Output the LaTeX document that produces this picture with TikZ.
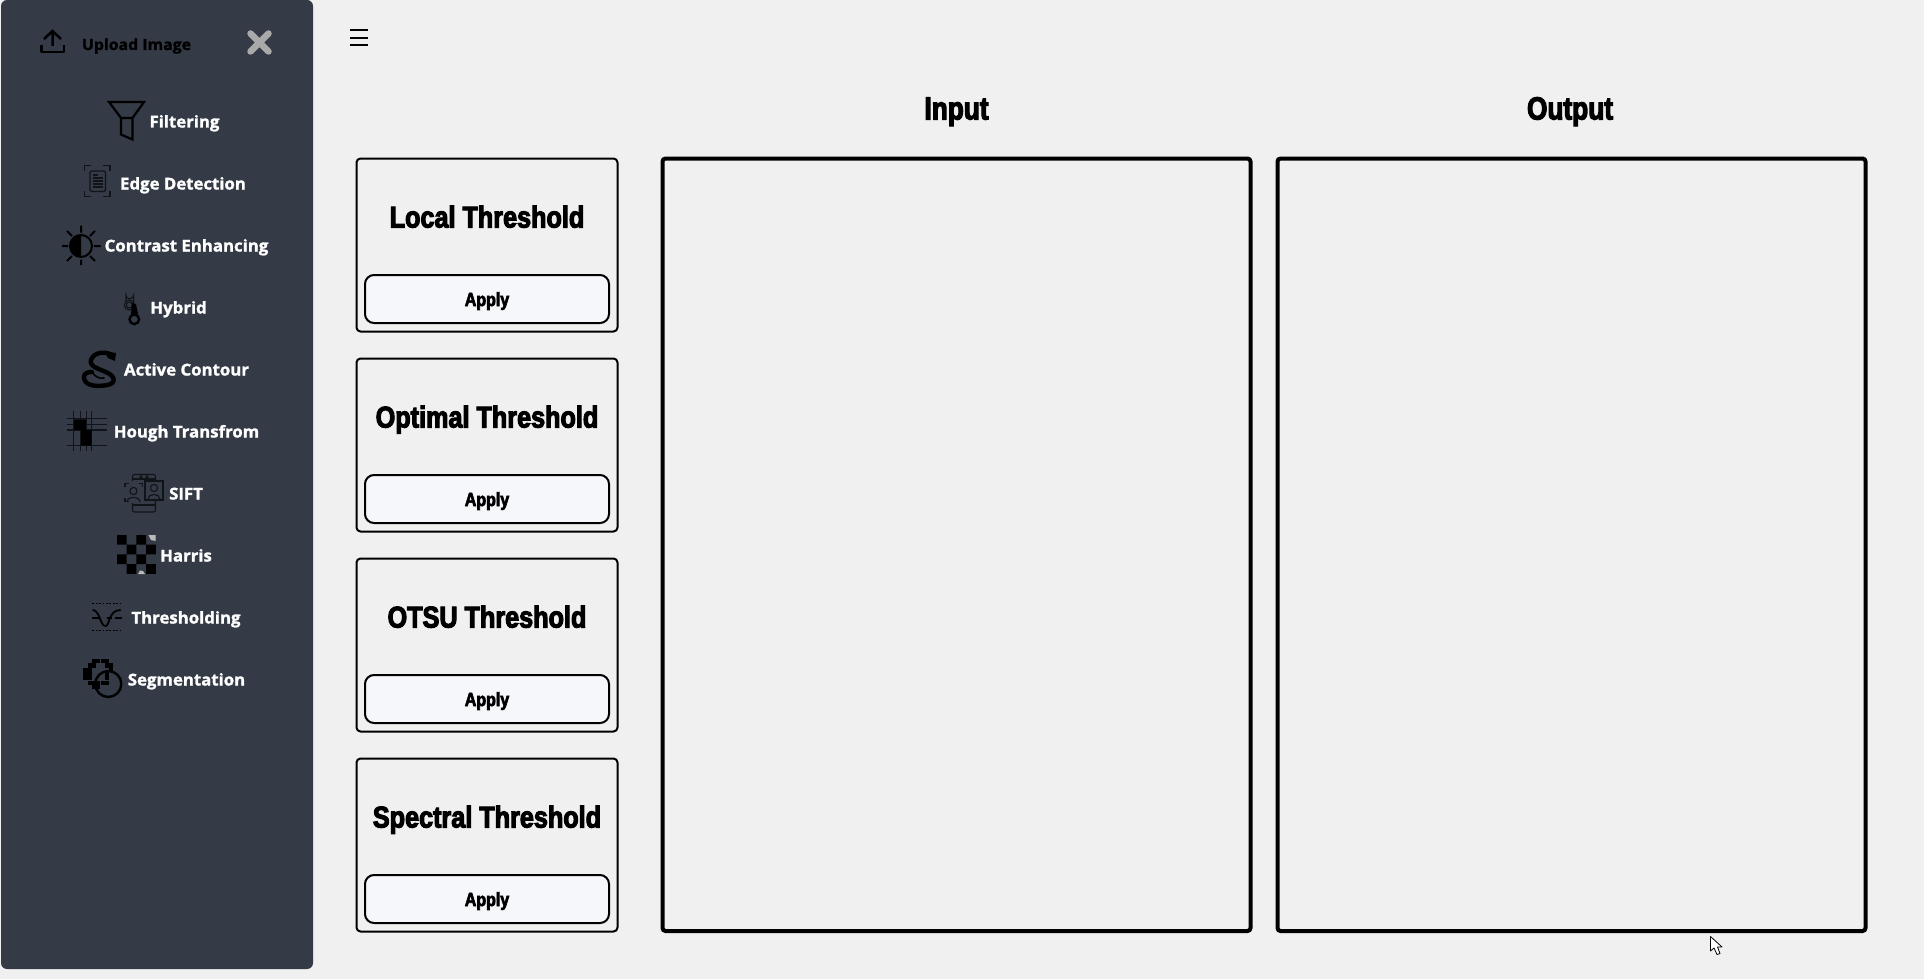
\documentclass[tikz,border=0pt]{standalone}
\usepackage{fontspec}
\setmainfont{Liberation Sans}
\newfontfamily\impactf{Liberation Sans Bold}[FakeBold=3.5,FakeStretch=0.84]
\newfontfamily\impacthead{Liberation Sans Bold}[FakeBold=3.5,FakeStretch=0.82]
\newfontfamily\sidef{Open Sans Bold}[FakeBold=1.4,FakeStretch=1.03]
\definecolor{pagebg}{HTML}{F0F0F0}
\definecolor{sidebg}{HTML}{343A46}
\definecolor{btnbg}{HTML}{F5F7FB}
\definecolor{closegray}{HTML}{A9A9A9}
\definecolor{thinink}{HTML}{101318}
\tikzset{
  x=1pt,y=-1pt,
  cardbox/.style={draw=black,line width=2pt,rounded corners=4pt,inner sep=0pt,minimum width=261pt,minimum height=173pt},
  btnbox/.style={draw=black,fill=btnbg,line width=2pt,rounded corners=9pt,inner sep=0pt,minimum width=244pt,minimum height=48pt},
  panelbox/.style={draw=black,line width=4pt,rounded corners=3pt,inner sep=0pt,minimum width=588pt,minimum height=772.5pt},
  sidelabel/.style={anchor=base,inner sep=0pt,text=white,font=\sidef\fontsize{16.3}{16}\selectfont},
  uploadlabel/.style={anchor=base,inner sep=0pt,text=black,font=\sidef\fontsize{15.4}{16}\selectfont},
  cardtitle/.style={anchor=base,inner sep=0pt,font=\impactf\fontsize{30}{30}\selectfont},
  applylabel/.style={anchor=base,inner sep=0pt,font=\impactf\fontsize{19}{20}\selectfont},
  headlabel/.style={anchor=base,inner sep=0pt,font=\impacthead\fontsize{32}{32}\selectfont},
  icon/.style={draw=black,line width=2pt},
  thinicon/.style={draw=thinink,line width=1.1pt},
}
\begin{document}
\begin{tikzpicture}
\useasboundingbox (0,0) rectangle (1924,979);
\fill[pagebg] (0,0) rectangle (1924,979);
\fill[sidebg,rounded corners=6pt] (1,0) rectangle (313,969);

% top bar
\draw[icon,line width=2.5pt] (44,39)--(52.5,31)--(61,39) (52.5,32)--(52.5,46);
\draw[icon,line width=2.5pt,line join=round] (41.5,45)--(41.5,52)--(64,52)--(64,45);
\node[uploadlabel] (upload) at (136.5,50) {Upload Image};
\draw[closegray,line width=6.5pt,line cap=round] (250.5,33.5)--(268.5,51.5) (268.5,33.5)--(250.5,51.5);
\draw[black,line width=2pt] (350,30)--(368,30) (350,38)--(368,38) (350,45.5)--(368,45.5);

% sidebar labels
\node[sidelabel] (filtering) at (184.5,127.5) {Filtering};
\node[sidelabel] (edge) at (183,189.5) {Edge Detection};
\node[sidelabel] (contrast) at (186.5,251.5) {Contrast Enhancing};
\node[sidelabel] (hybrid) at (178.5,313.5) {Hybrid};
\node[sidelabel] (active) at (186.5,375.5) {Active Contour};
\node[sidelabel] (hough) at (186.5,437.5) {Hough Transfrom};
\node[sidelabel] (sift) at (186,499.5) {SIFT};
\node[sidelabel] (harris) at (186,561.5) {Harris};
\node[sidelabel] (thresh) at (186,623.5) {Thresholding};
\node[sidelabel] (seg) at (186.5,685.5) {Segmentation};

% funnel
\draw[icon,line width=2.2pt,line join=miter] (109,102)--(144,102)--(132.5,118)--(132.5,139.5)--(121,134.5)--(121,118)--cycle (121,118)--(132.5,118);

% edge detection
\draw[thinicon] (84.5,171)--(84.5,165.5)--(91,165.5) (103,165.5)--(110,165.5)--(110,171) (84.5,191)--(84.5,196.5)--(91,196.5) (103,196.5)--(110,196.5)--(110,191);
\draw[thinicon,rounded corners=1.5pt] (90,171)rectangle(105.5,191.5);
\draw[thinicon] (93,175)--(98,175) (93,178)--(103,178) (93,181)--(103,181) (93,184)--(103,184) (93,187)--(103,187);

% contrast
\draw[icon] (81,246) circle (11);
\fill[black] (81,235) arc[start angle=-90,delta angle=-180,radius=11] -- cycle;
\draw[icon] (62,246)--(68,246) (94,246)--(100.5,246) (81,225.5)--(81,232.5) (81,259.5)--(81,265)
  (67,231)--(72,236) (95,231)--(90,236) (67,261)--(72,256) (95,261)--(90,256);

% hybrid
\draw[thinicon] (126,302)--(126,295) arc[start angle=180,delta angle=-180,radius=3.8] -- (133.6,303);
\draw[thinicon] (129.3,305) circle (5);
\draw[thinicon] (129.3,305) circle (3);
\fill[black] (132,303)--(136,304)--(138,314)--(131,314)--cycle;
\draw[icon,line width=2.4pt] (134.3,319.3) circle (4.8);

% active contour (snake)
\draw[icon,line width=4.4pt,line cap=round] (113,356) .. controls (108,351) and (94,351) .. (91,360) .. controls (89,367) and (100,369) .. (108,373) .. controls (117,378) and (115,385) .. (104,385.5) .. controls (92,387) and (84,384) .. (84,377) .. controls (84,373) and (88,372) .. (92,372);
\draw[icon,line width=1.6pt,line cap=round] (92,372) .. controls (95,377) and (100,379) .. (104,378);
\fill[black] (104,351)--(116,353)--(115,361)--(108,358)--cycle;

% hough
\draw[thinicon,line width=.7pt] (73.3,410.7)--(73.3,450.7) (80,410.7)--(80,450.7) (86,410.7)--(86,450.7) (91.7,410.7)--(91.7,450.7)
 (66.7,418)--(107.3,418) (66.7,424)--(107.3,424) (66.7,445)--(107.3,445);
\draw[thinicon,line width=1.2pt] (66.7,430)--(107.3,430);
\fill[black] (74,419.3) rectangle (86,430) (81,430) rectangle (91.7,445.7);

% SIFT
\draw[thinicon,rounded corners=2pt] (132.5,481)--(132.5,474.5)--(155.5,474.5)--(155.5,481) (155.5,500)--(155.5,512)--(132.5,512)--(132.5,503);
\draw[thinicon] (132.5,479)--(155.5,479) (132.5,505)--(155.5,505);
\draw[thinicon] (141,476.8) circle (1) (147,476.8) circle (1);
\draw[thinicon] (145,481) rectangle (163,500);
\draw[thinicon] (154,488) circle (3.6) (148,499) .. controls (148,493) and (160,493) .. (160,499);
\draw[thinicon] (133.5,491) circle (3.6) (127,502) .. controls (127,496) and (140,496) .. (140,502);
\draw[thinicon] (125,487)--(125,483.5)--(128.5,483.5) (139,483.5)--(142.5,483.5)--(142.5,487) (125,498)--(125,501.5)--(128.5,501.5);

% Harris
\fill[black] (117,535) rectangle ++(9.7,9.7) (136.4,535) rectangle ++(9.7,9.7)
 (126.7,544.7) rectangle ++(9.7,9.7) (146.1,544.7) rectangle ++(9.7,9.7)
 (117,554.4) rectangle ++(9.7,9.7) (136.4,554.4) rectangle ++(9.7,9.7)
 (126.7,564.1) rectangle ++(9.7,9.7) (146.1,564.1) rectangle ++(9.7,9.7);
\fill[closegray!80!white] (148.5,535)--(155.7,535)--(155.7,541)--(151,540)--cycle (138,574)--(145,574)--(143,571)--(140,570.5)--cycle;

% thresholding
\draw[black,line width=1.8pt,dash pattern=on 1.8pt off 1.6pt] (92.3,603.5)--(120.7,603.5) (92.3,630.5)--(120.7,630.5);
\draw[black,line width=1.8pt] (92.5,610) .. controls (100,610) and (100,626) .. (105.5,626) .. controls (110,626) and (108,610) .. (120.7,610);
\draw[black,line width=1.6pt] (92.3,617.7)--(99,617.7) (106.5,617.7)--(111.5,617.7) (115,617.7)--(121.5,617.7);

% segmentation
\foreach \c/\r in {2/0,3/0,4/0,5/0,1/1,2/1,5/1,6/1,0/2,1/2,6/2,0/3,1/3,0/4,1/4,1/5,2/5,2/6,3/6,5/3,5/4,4/5,5/5,3/5}{
  \fill[black] ({83.3+\c*4.3},{659+\r*4.3}) rectangle ++(4.2,4.2);
}
\draw[icon,line width=2.4pt] (108.3,684) circle (13);

% cards
\foreach \i/\t in {0/Local Threshold,1/Optimal Threshold,2/OTSU Threshold,3/Spectral Threshold}{
  \pgfmathsetmacro{\dy}{\i*200}
  \node[cardbox] (card\i) at (487,{245+\dy}) {};
  \node[btnbox] (btn\i) at (487,{299+\dy}) {};
  \node[cardtitle] (title\i) at (487,{227.5+\dy}) {\t};
  \node[applylabel] (apply\i) at (487,{306+\dy}) {Apply};
}

% panels
\node[panelbox] (inputpanel) at (956.5,544.75) {};
\node[panelbox] (outputpanel) at (1571.5,544.75) {};
\node[headlabel] (inputhead) at (956.5,119.5) {Input};
\node[headlabel] (outputhead) at (1570,119.5) {Output};

% cursor
\draw[black,fill=white,line width=.8pt,line join=round] (1710.5,936.5)--(1710.5,951)--(1714,948)--(1717,954.5)--(1720,953.5)--(1717.5,947)--(1722,947)--cycle;
\end{tikzpicture}
\end{document}
